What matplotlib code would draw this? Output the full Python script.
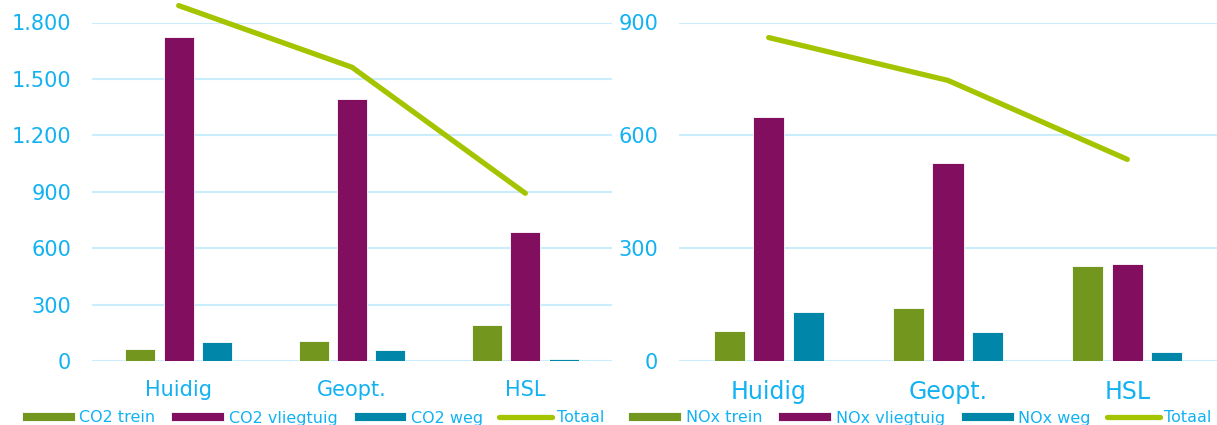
import matplotlib.pyplot as plt
import numpy as np
from matplotlib.ticker import FuncFormatter

# data
categorias = ["Huidig", "Geopt.", "HSL"]

co2_trein = [64, 106, 192]
co2_vliegtuig = [1725, 1395, 687]
co2_weg = [101, 59, 11]
co2_totaal = [1890, 1562, 892]

nox_trein = [80, 141, 252]
nox_vliegtuig = [648, 526, 258]
nox_weg = [130, 77, 24]
nox_totaal = [860, 746, 536]

corTexto = "#12B2F2"
corGrid = "#C9EDFB"
cores = ["#72961E", "#820E5F", "#0086A9"]
corTotaal = "#A5C400"

W, H = 1217, 425


def milhar(v, pos):
    return f"{int(v):,}".replace(",", ".")


def painel(fig, x0, x1, valores, nomes, ymax, passo, tamCat, legX):
    # axes in pixel coordinates
    ax = fig.add_axes([x0 / W, (H - 361) / H, (x1 - x0) / W, 338.5 / H])
    x = np.arange(len(categorias))
    largura = 0.173
    desloc = 0.221
    handles = []
    for i, (v, cor) in enumerate(zip(valores[:3], cores)):
        b = ax.bar(x + (i - 1) * desloc, v, largura, color=cor, edgecolor="white",
                   linewidth=0.6, zorder=3, label=nomes[i])
        handles.append(b)
    linha, = ax.plot(x, valores[3], color=corTotaal, linewidth=3.8,
                     solid_capstyle="round", zorder=4, clip_on=False, label="Totaal")
    handles.append(linha)

    ax.set_xlim(-0.5, 2.5)
    ax.set_ylim(0, ymax)
    ax.set_yticks(np.arange(0, ymax + 1, passo))
    ax.yaxis.set_major_formatter(FuncFormatter(milhar))
    ax.grid(axis="y", color=corGrid, linewidth=1.5, zorder=0)
    ax.set_axisbelow(True)
    for s in ax.spines.values():
        s.set_visible(False)
    ax.tick_params(axis="y", length=0, pad=15, labelsize=15, labelcolor=corTexto)
    ax.set_xticks(x)
    ax.set_xticklabels(categorias)
    ax.tick_params(axis="x", length=0, pad=14, labelsize=tamCat, labelcolor=corTexto)

    leg = fig.legend(handles=handles, loc="center", bbox_to_anchor=(legX / W, 7 / H),
                     ncol=4, frameon=False, fontsize=11.5, handlelength=3.3,
                     handleheight=0.5, handletextpad=0.3, columnspacing=1.0,
                     borderaxespad=0, borderpad=0)
    for t in leg.get_texts():
        t.set_color(corTexto)
    return ax


fig = plt.figure(figsize=(W / 100, H / 100), dpi=100)

painel(fig, 92, 612, [co2_trein, co2_vliegtuig, co2_weg, co2_totaal],
       ["CO2 trein", "CO2 vliegtuig", "CO2 weg"], 1800, 300, 15, 313)
painel(fig, 679, 1217, [nox_trein, nox_vliegtuig, nox_weg, nox_totaal],
       ["NOx trein", "NOx vliegtuig", "NOx weg"], 900, 300, 17, 920)

plt.savefig("out.png", dpi=100)
plt.close()
